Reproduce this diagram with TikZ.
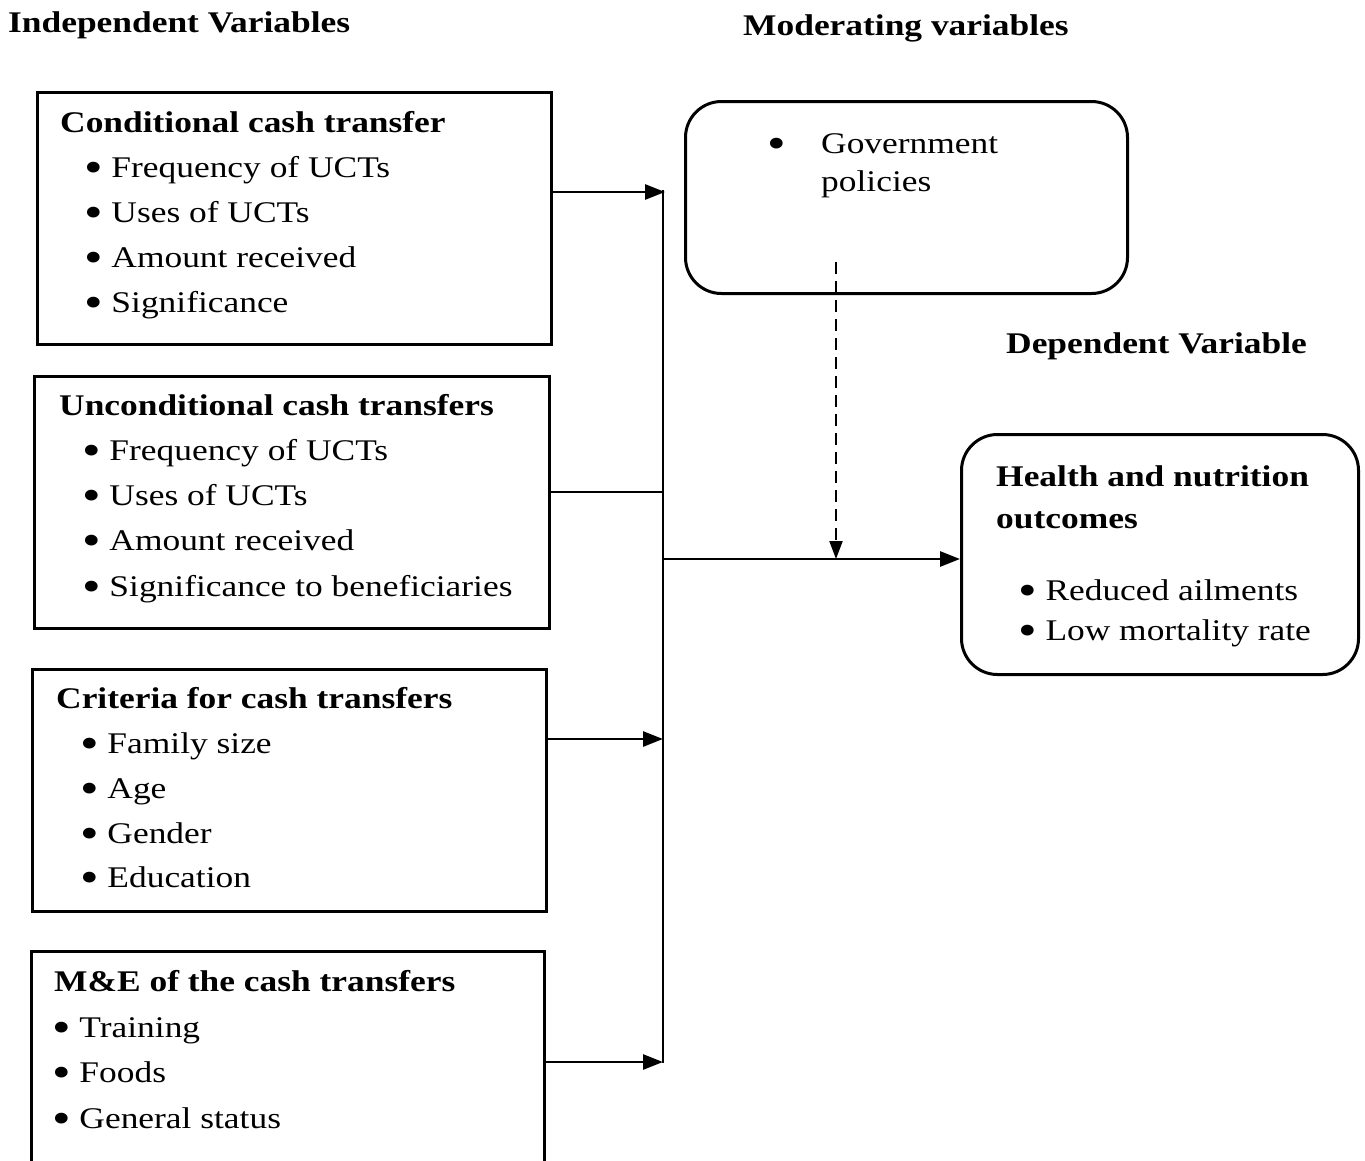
\documentclass[tikz,border=0pt]{standalone}
\usepackage{fontspec}
\setmainfont[FakeStretch=1.18]{Liberation Serif}
\usetikzlibrary{arrows.meta}
\newcommand\bulglyph{\smash{\raisebox{-0.19em}{\scalebox{1.5}{\textbullet}}}}
\newcommand\bul{\bulglyph\hspace{0.29em}}
\begin{document}
\begin{tikzpicture}[x=1pt,y=-1pt,
  font=\fontsize{30}{36}\selectfont,
  box/.style={draw, line width=3pt, inner sep=0pt},
  rbox/.style={draw, line width=3pt, inner sep=0pt, rounded corners=36pt},
  txt/.style={anchor=base west, inner sep=0pt},
  hdr/.style={anchor=base west, inner sep=0pt, font=\fontsize{30}{36}\selectfont\bfseries},
  conn/.style={line width=2.8pt},
  arr/.style={line width=2.8pt, -{Triangle[length=20pt,width=15pt]}},
  darr/.style={line width=2.2pt, dash pattern=on 12pt off 7pt, -{Triangle[length=18pt,width=13pt]}}]
\useasboundingbox (0,0) rectangle (1365,1160);
\clip (0,0) rectangle (1365,1160);

% headers
\node[hdr] (hind) at (8,32) {Independent Variables};
\node[hdr] (hmod) at (743,35) {Moderating variables};
\node[hdr] (hdep) at (1006,353) {Dependent Variable};

% box 1
\node[box, anchor=north west, minimum width=514pt, minimum height=252pt] (b1) at (36,91) {};
\node[hdr] (b1t) at (60,132) {Conditional cash transfer};
\node[txt] (b1a) at (84,177) {\bul Frequency of UCTs};
\node[txt] (b1b) at (84,222) {\bul Uses of UCTs};
\node[txt] (b1c) at (84,267) {\bul Amount received};
\node[txt] (b1d) at (84,312) {\bul Significance};

% box 2
\node[box, anchor=north west, minimum width=515pt, minimum height=252pt] (b2) at (33,375) {};
\node[hdr] (b2t) at (59,415) {Unconditional cash transfers};
\node[txt] (b2a) at (82,460) {\bul Frequency of UCTs};
\node[txt] (b2b) at (82,505) {\bul Uses of UCTs};
\node[txt] (b2c) at (82,550) {\bul Amount received};
\node[txt] (b2d) at (82,596) {\bul Significance to beneficiaries};

% box 3
\node[box, anchor=north west, minimum width=514pt, minimum height=242pt] (b3) at (31,668) {};
\node[hdr] (b3t) at (56,708) {Criteria for cash transfers};
\node[txt] (b3a) at (80,753) {\bul Family size};
\node[txt] (b3b) at (80,798) {\bul Age};
\node[txt] (b3c) at (80,843) {\bul Gender};
\node[txt] (b3d) at (80,887) {\bul Education};

% box 4
\node[box, anchor=north west, minimum width=513pt, minimum height=260pt] (b4) at (30,950) {};
\node[hdr] (b4t) at (54,991) {M\&E of the cash transfers};
\node[txt] (b4a) at (52,1037) {\bul Training};
\node[txt] (b4b) at (52,1082) {\bul Foods};
\node[txt] (b4c) at (52,1128) {\bul General status};

% government box
\node[rbox, anchor=north west, minimum width=442pt, minimum height=192pt] (gov) at (684,100) {};
\node[txt] (govb) at (767,153) {\bulglyph};
\node[txt] (govt) at (821,153) {Government};
\node[txt] (govt2) at (821,191) {policies};

% health box
\node[rbox, anchor=north west, minimum width=397pt, minimum height=240pt] (hlt) at (960,433) {};
\node[hdr] (hlt1) at (996,486) {Health and nutrition};
\node[hdr] (hlt2) at (996,528) {outcomes};
\node[txt] (hlta) at (1018,600) {\bul Reduced ailments};
\node[txt] (hltb) at (1018,640) {\bul Low mortality rate};

% connectors
\coordinate (vtop) at (663,190);
\coordinate (vbot) at (663,1063);
\coordinate (a1) at (665,192);
\coordinate (a2) at (663,492);
\coordinate (a3) at (663,739);
\coordinate (a4) at (663,1062);
\coordinate (hv) at (663,559);
\coordinate (dtop) at (836,262);

\draw[conn] (vtop) -- (vbot);
\draw[arr] (b1.east |- a1) -- (a1);
\draw[conn] (b2.east |- a2) -- (a2);
\draw[arr] (b3.east |- a3) -- (a3);
\draw[arr] (b4.east |- a4) -- (a4);
\draw[arr] (hv) -- (hlt.west |- hv);
\draw[darr] (dtop) -- (dtop |- hv);
\end{tikzpicture}
\end{document}
